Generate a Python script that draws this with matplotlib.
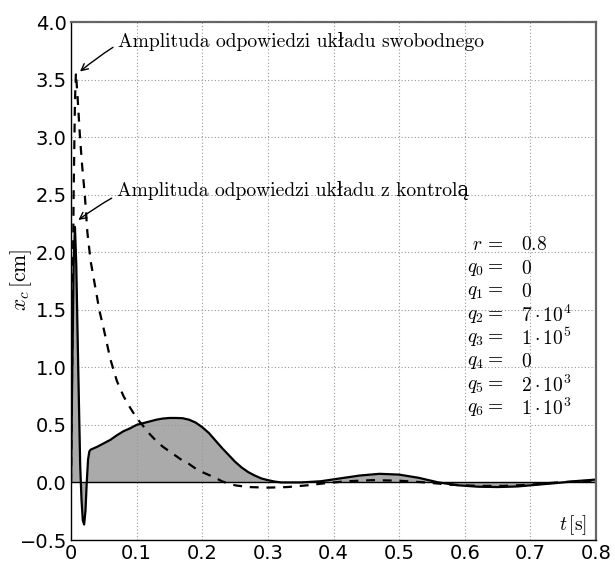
import matplotlib
matplotlib.use("Agg")
import matplotlib.pyplot as plt
import numpy as np

plt.rcParams['mathtext.fontset'] = 'cm'

# free response (dashed)
t_free = [0, 0.002, 0.004, 0.006, 0.0075, 0.010, 0.0137, 0.017, 0.021, 0.025, 0.03, 0.035,
          0.04, 0.043, 0.05, 0.06, 0.07, 0.08, 0.09, 0.1, 0.11, 0.12, 0.13, 0.14, 0.15,
          0.16, 0.17, 0.18, 0.19, 0.2, 0.21, 0.22, 0.23, 0.24, 0.25, 0.27, 0.3, 0.33,
          0.36, 0.39, 0.42, 0.46, 0.5, 0.54, 0.58, 0.62, 0.66, 0.7, 0.74, 0.78, 0.8]
x_free = [0, 1.2, 2.5, 3.3, 3.56, 3.35, 3.0, 2.75, 2.5, 2.17, 1.92, 1.76,
          1.6, 1.5, 1.33, 1.07, 0.88, 0.75, 0.65, 0.56, 0.49, 0.42, 0.36, 0.31, 0.27,
          0.23, 0.19, 0.16, 0.12, 0.09, 0.065, 0.04, 0.01, -0.01, -0.025, -0.04, -0.045, -0.04,
          -0.025, -0.005, 0.01, 0.02, 0.015, 0.0, -0.02, -0.03, -0.03, -0.02, 0.0, 0.012, 0.015]

# controlled response (solid, filled)
t_ctrl = [0, 0.002, 0.004, 0.006, 0.008, 0.011, 0.014, 0.016, 0.018, 0.020, 0.022, 0.024,
          0.026, 0.028, 0.03, 0.04, 0.05, 0.06, 0.07, 0.08, 0.09, 0.1, 0.11, 0.12, 0.13,
          0.14, 0.15, 0.16, 0.17, 0.18, 0.19, 0.2, 0.21, 0.22, 0.23, 0.24, 0.25, 0.26,
          0.27, 0.28, 0.29, 0.3, 0.31, 0.32, 0.35, 0.38, 0.41, 0.44, 0.47, 0.5, 0.53,
          0.56, 0.59, 0.62, 0.65, 0.68, 0.71, 0.74, 0.77, 0.8]
x_ctrl = [0, 1.0, 1.9, 2.22, 1.9, 1.0, 0.15, -0.15, -0.33, -0.365, -0.25, 0.0,
          0.2, 0.27, 0.285, 0.31, 0.34, 0.37, 0.41, 0.445, 0.47, 0.5, 0.515, 0.53, 0.545,
          0.555, 0.56, 0.56, 0.558, 0.545, 0.52, 0.48, 0.43, 0.365, 0.3, 0.24, 0.18, 0.13,
          0.09, 0.06, 0.035, 0.02, 0.008, 0.0, 0.0, 0.01, 0.035, 0.06, 0.075, 0.068, 0.04,
          0.0, -0.025, -0.037, -0.04, -0.035, -0.02, -0.005, 0.012, 0.025]

x_ticks = [0, 0.1, 0.2, 0.3, 0.4, 0.5, 0.6, 0.7, 0.8]
x_tick_labels = ['0', '0.1', '0.2', '0.3', '0.4', '0.5', '0.6', '0.7', '0.8']
y_ticks = [-0.5, 0.0, 0.5, 1.0, 1.5, 2.0, 2.5, 3.0, 3.5, 4.0]
y_tick_labels = ['\u22120.5', '0.0', '0.5', '1.0', '1.5', '2.0', '2.5', '3.0', '3.5', '4.0']

param_names = [r'$r\,=$', r'$q_0 =$', r'$q_1 =$', r'$q_2 =$', r'$q_3 =$', r'$q_4 =$', r'$q_5 =$', r'$q_6 =$']
param_values = [r'$0.8$', r'$0$', r'$0$', r'$7\cdot10^4$', r'$1\cdot10^5$', r'$0$', r'$2\cdot10^3$', r'$1\cdot10^3$']

ann_free = 'Amplituda odpowiedzi układu swobodnego'
ann_ctrl = 'Amplituda odpowiedzi układu z kontrolą'

fig = plt.figure(figsize=(6.15, 5.63), dpi=100)
ax = fig.add_axes([71/615, 1-540/563, 525/615, 518/563])

ax.fill_between(t_ctrl, x_ctrl, 0, color='#aaaaaa', linewidth=0)
ax.axhline(0, color='black', lw=1.0)
ax.plot(t_ctrl, x_ctrl, color='black', lw=1.6)
ax.plot(t_free, x_free, color='black', lw=1.6, ls=(0, (4, 3.5)))

ax.set_xlim(0, 0.8)
ax.set_ylim(-0.5, 4.0)
ax.set_xticks(x_ticks)
ax.set_xticklabels(x_tick_labels)
ax.set_yticks(y_ticks)
ax.set_yticklabels(y_tick_labels)
ax.tick_params(labelsize=14, direction='in', length=0, pad=3)
ax.grid(True, color='#999999', ls=(0, (1, 2)), lw=0.8)
for s in ['left', 'bottom']:
    ax.spines[s].set_color('black')
    ax.spines[s].set_linewidth(1.0)
for s in ['top', 'right']:
    ax.spines[s].set_color('#666666')
    ax.spines[s].set_linewidth(1.6)

serif = ['cmr10', 'DejaVu Serif']
arrow = dict(arrowstyle='->', color='black', lw=1.0, shrinkA=0, shrinkB=0,
             mutation_scale=12, connectionstyle='arc3,rad=0.03')
ax.text(0.0716, 3.83, ann_free, fontsize=14.1, family=serif, va='center', ha='left')
ax.annotate('', xy=(0.0137, 3.57), xytext=(0.064, 3.78), arrowprops=arrow)
ax.text(0.0697, 2.54, ann_ctrl, fontsize=14.1, family=serif, va='center', ha='left')
ax.annotate('', xy=(0.0112, 2.28), xytext=(0.062, 2.47), arrowprops=arrow)

y0 = 2.064
dy = 23.4 / 115.2
for i, (n, v) in enumerate(zip(param_names, param_values)):
    y = y0 - i * dy
    ax.text(0.658, y, n, fontsize=14, ha='right', va='center')
    ax.text(0.686, y, v, fontsize=14, ha='left', va='center')

ax.text(0.787, -0.37, r'$t\,[\mathrm{s}]$', fontsize=14, ha='right', va='center')
fig.text(21/615, 1-280/563, r'$x_c\,[\mathrm{cm}]$', fontsize=15.5, rotation=90,
         ha='center', va='center')

fig.savefig('out.png', dpi=100)
